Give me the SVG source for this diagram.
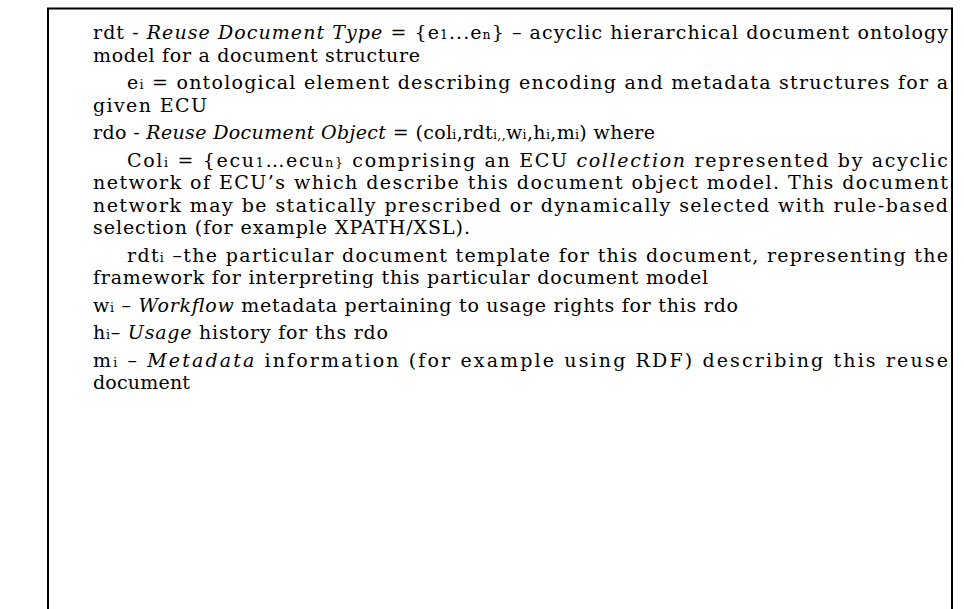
<svg xmlns="http://www.w3.org/2000/svg" width="964" height="609" viewBox="0 0 964 609">
  <style>
    .t { font-family: "DejaVu Serif", "Liberation Serif", serif; font-size: 19px; fill: #000; }
    .i { font-style: italic; }
    .s { font-size: 12.5px; }
    .frame { fill: none; stroke: #000; stroke-width: 2; }
  </style>
  <rect width="964" height="609" fill="#fff"/>
  <!-- open-bottom frame around the definitions -->
  <path class="frame" d="M48,620 V8.5 H952 V620"/>

  <g id="definitions">
    <text class="t" x="93" y="39" textLength="855" lengthAdjust="spacing">rdt - <tspan class="i">Reuse Document Type</tspan> = {e<tspan class="s">1</tspan>...e<tspan class="s">n</tspan>} – acyclic hierarchical document ontology</text>
    <text class="t" x="93" y="61.5" textLength="327" lengthAdjust="spacing">model for a document structure</text>
    <text class="t" x="127" y="89" textLength="821" lengthAdjust="spacing">e<tspan class="s">i</tspan> = ontological element describing encoding and metadata structures for a</text>
    <text class="t" x="93" y="111.5" textLength="114" lengthAdjust="spacing">given ECU</text>
    <text class="t" x="93" y="139" textLength="562" lengthAdjust="spacing">rdo - <tspan class="i">Reuse Document Object</tspan> = (col<tspan class="s">i</tspan>,rdt<tspan class="s">i,,</tspan>w<tspan class="s">i</tspan>,h<tspan class="s">i</tspan>,m<tspan class="s">i</tspan>) where</text>
    <text class="t" x="127" y="166.5" textLength="821" lengthAdjust="spacing">Col<tspan class="s">i</tspan> = {ecu<tspan class="s">1</tspan>…ecu<tspan class="s">n}</tspan> comprising an ECU <tspan class="i">collection</tspan> represented by acyclic</text>
    <text class="t" x="93" y="189" textLength="855" lengthAdjust="spacing">network of ECU’s which describe this document object model.  This document</text>
    <text class="t" x="93" y="211.5" textLength="855" lengthAdjust="spacing">network may be statically prescribed or dynamically selected with rule-based</text>
    <text class="t" x="93" y="234" textLength="377" lengthAdjust="spacing">selection (for example XPATH/XSL).</text>
    <text class="t" x="127" y="261.5" textLength="821" lengthAdjust="spacing">rdt<tspan class="s">i</tspan> –the particular document template for this document, representing the</text>
    <text class="t" x="93" y="284" textLength="615" lengthAdjust="spacing">framework for interpreting this particular document model</text>
    <text class="t" x="93" y="311.5" textLength="645" lengthAdjust="spacing">w<tspan class="s">i</tspan> – <tspan class="i">Workflow</tspan> metadata pertaining to usage rights for this rdo</text>
    <text class="t" x="93" y="339" textLength="295" lengthAdjust="spacing">h<tspan class="s">i</tspan>– <tspan class="i">Usage</tspan> history for ths rdo</text>
    <text class="t" x="93" y="366.5" textLength="855" lengthAdjust="spacing">m<tspan class="s">i</tspan> – <tspan class="i">Metadata</tspan> information (for example using RDF) describing this reuse</text>
    <text class="t" x="93" y="389" textLength="97" lengthAdjust="spacing">document</text>
  </g>
</svg>
